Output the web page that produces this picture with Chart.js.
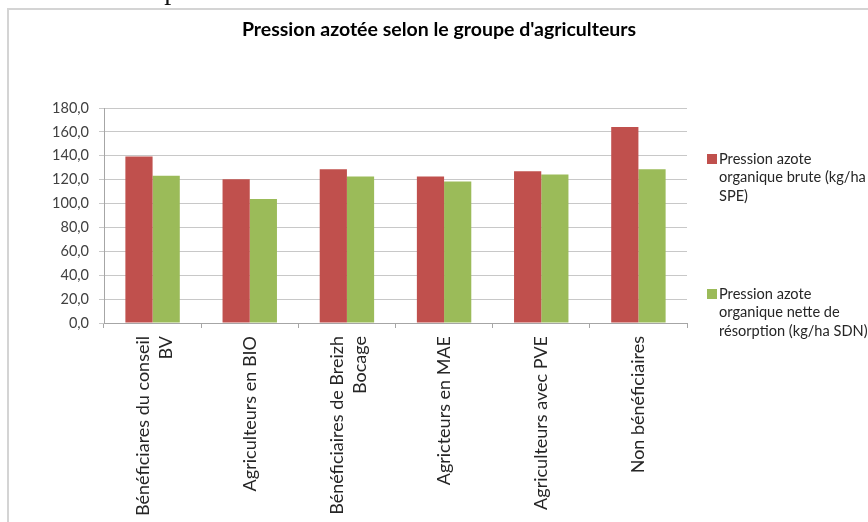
<!DOCTYPE html>
<html lang="fr">
<head>
<meta charset="utf-8">
<title>Pression azotée selon le groupe d'agriculteurs</title>
<script src="https://cdn.jsdelivr.net/npm/chart.js@4/dist/chart.umd.min.js"></script>
<style>
  html, body { margin: 0; padding: 0; background: #ffffff; }
  #wrap { position: relative; width: 868px; height: 522px; overflow: hidden; }
  canvas { display: block; }
</style>
</head>
<body>
<div id="wrap"><canvas id="chart" width="868" height="522"></canvas></div>
<script>
// Groupes d'agriculteurs (libellés sur deux lignes quand nécessaire)
const categories = [
  ["Bénéficiares du conseil", "BV"],
  "Agriculteurs en BIO",
  ["Bénéficiaires de Breizh", "Bocage"],
  "Agricteurs en MAE",
  "Agriculteurs avec PVE",
  "Non bénéficiaires"
];

// Pression azote organique brute (kg/ha SPE)
const pressionBrute = [139.5, 120.4, 128.8, 122.6, 127.1, 164.0];
// Pression azote organique nette de résorption (kg/ha SDN)
const pressionNette = [123.2, 103.9, 122.6, 118.4, 124.3, 128.8];

const seriesLegend = [
  ["Pression azote", "organique brute (kg/ha", "SPE)"],
  ["Pression azote", "organique nette de", "résorption (kg/ha SDN)"]
];

const yTicks = [0, 20, 40, 60, 80, 100, 120, 140, 160, 180];

const titleText = "Pression azotée selon le groupe d'agriculteurs";
const headerText = "la somme de pression azotée sur les bassins versants.";

const FONT = "Lato, 'Open Sans', sans-serif";
const TEXT = "#404040";
const GRID = "#c8c8c8";
const X_FONT_SIZE = 18;
const X_LINE_HEIGHT = 1.3;

// Cadre, titre, ligne de texte du document et légende à droite
const decorations = {
  id: "decorations",
  beforeDraw(chart) {
    const ctx = chart.ctx;
    ctx.save();
    ctx.fillStyle = "#ffffff";
    ctx.fillRect(0, 0, chart.width, chart.height);
    // texte du document au-dessus du graphique (coupé en haut)
    ctx.fillStyle = "#111111";
    ctx.font = "28px 'Liberation Serif', serif";
    ctx.textAlign = "right";
    ctx.textBaseline = "alphabetic";
    ctx.fillText(headerText, 609, -1);
    // cadre du graphique
    ctx.strokeStyle = "#d4d4d4";
    ctx.lineWidth = 2;
    ctx.strokeRect(8, 9, 1200, 1200);
    ctx.restore();

    // centre les libellés multilignes de l'axe x sur leur catégorie
    const xs = chart.scales.x;
    const lh = X_FONT_SIZE * X_LINE_HEIGHT;
    xs.getLabelItems().forEach(item => {
      if (Array.isArray(item.label) && item.label.length > 1) {
        item.textOffset = lh / 2 - (item.label.length - 1) * lh / 2 + 2;
      }
    });
  },
  afterDraw(chart) {
    const ctx = chart.ctx;
    ctx.save();
    // titre
    ctx.fillStyle = "#000000";
    ctx.font = "bold 19.5px " + FONT;
    ctx.textAlign = "center";
    ctx.textBaseline = "middle";
    ctx.fillText(titleText, 439, 30);
    // légende
    ctx.font = "14.6px " + FONT;
    ctx.textAlign = "left";
    const tops = [159, 294];
    chart.data.datasets.forEach((ds, i) => {
      const y0 = tops[i];
      ctx.fillStyle = ds.backgroundColor;
      ctx.fillRect(707, y0 - 5, 10, 10);
      ctx.fillStyle = "#262626";
      seriesLegend[i].forEach((line, k) => {
        ctx.fillText(line, 719, y0 + k * 18.5);
      });
    });
    ctx.restore();
  }
};

new Chart(document.getElementById("chart"), {
  type: "bar",
  data: {
    labels: categories,
    datasets: [
      {
        label: seriesLegend[0].join(" "),
        data: pressionBrute,
        backgroundColor: "#c0504d",
        categoryPercentage: 0.56,
        barPercentage: 1.0
      },
      {
        label: seriesLegend[1].join(" "),
        data: pressionNette,
        backgroundColor: "#9bbb59",
        categoryPercentage: 0.56,
        barPercentage: 1.0
      }
    ]
  },
  options: {
    responsive: false,
    animation: false,
    layout: { padding: { left: 0, right: 181, top: 108, bottom: 0 } },
    plugins: {
      legend: { display: false },
      title: { display: false },
      tooltip: { enabled: false }
    },
    scales: {
      x: {
        offset: true,
        afterFit(scale) { scale.height = 522 - 323; },
        grid: {
          display: true,
          drawOnChartArea: false,
          drawTicks: true,
          tickLength: 5,
          color: "#a6a6a6",
          offset: true
        },
        border: { display: true, color: "#a6a6a6" },
        ticks: {
          minRotation: 90,
          maxRotation: 90,
          autoSkip: false,
          padding: 8,
          color: "#262626",
          font: { family: FONT, size: X_FONT_SIZE, lineHeight: X_LINE_HEIGHT }
        }
      },
      y: {
        min: 0,
        max: 180,
        afterFit(scale) { scale.width = 104; },
        afterBuildTicks(scale) { scale.ticks = yTicks.map(v => ({ value: v })); },
        grid: {
          color: GRID,
          drawTicks: true,
          tickLength: 5
        },
        border: { display: true, color: "#a6a6a6" },
        ticks: {
          padding: 10,
          color: TEXT,
          font: { family: FONT, size: 14.5 },
          callback: v => v.toFixed(1).replace(".", ",")
        }
      }
    }
  },
  plugins: [decorations]
});
</script>
</body>
</html>
